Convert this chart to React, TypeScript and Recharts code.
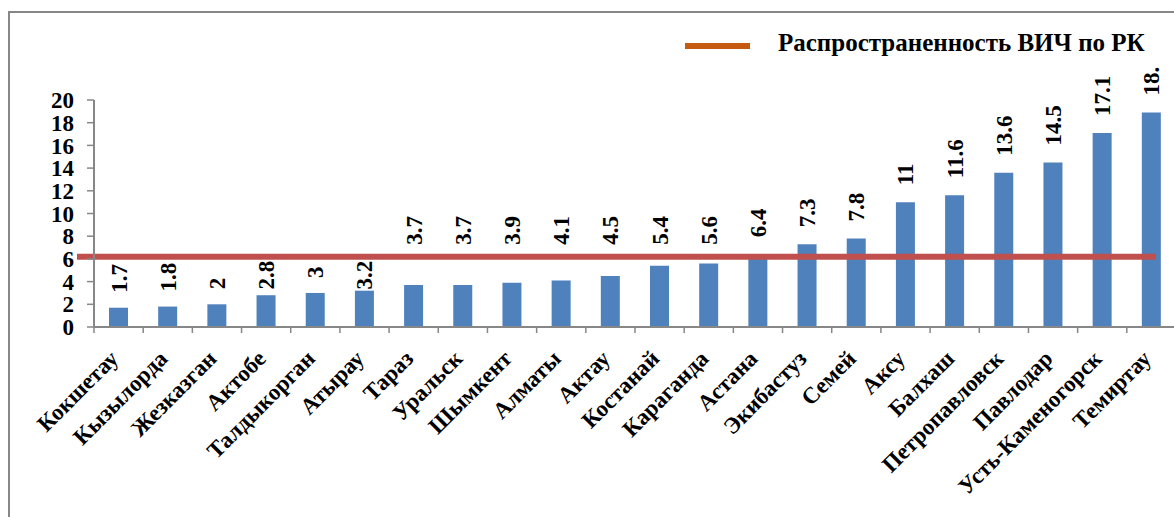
import { Bar, BarChart, LabelList, ReferenceLine, XAxis, YAxis } from 'recharts';

const CITIES = [
  'Кокшетау', 'Кызылорда', 'Жезказган', 'Актобе', 'Талдыкорган', 'Атырау',
  'Тараз', 'Уральск', 'Шымкент', 'Алматы', 'Актау', 'Костанай', 'Караганда',
  'Астана', 'Экибастуз', 'Семей', 'Аксу', 'Балхаш', 'Петропавловск', 'Павлодар',
  'Усть-Каменогорск', 'Темиртау',
];
const PREVALENCE = [
  1.7, 1.8, 2, 2.8, 3, 3.2, 3.7, 3.7, 3.9, 4.1, 4.5, 5.4, 5.6, 6.4, 7.3, 7.8,
  11, 11.6, 13.6, 14.5, 17.1, 18.9,
];
const RK_PREVALENCE = 6.2;
const RK_LABEL = 'Распространенность ВИЧ по РК';
const Y_TICKS = [0, 2, 4, 6, 8, 10, 12, 14, 16, 18, 20];

const FONT = '"Liberation Serif", "Times New Roman", serif';
const FONT_SIZE = 23;
const AXIS_GREY = '#878787';
const BAR_BLUE = '#4f81bd';
const LINE_RED = '#c0504d';
const LEGEND_ORANGE = '#c55a11';

const data = CITIES.map((city, i) => ({ city, value: PREVALENCE[i] }));

// rough advance width of a number in bold serif digits
function labelLength(text: string) {
  let w = 0;
  for (const ch of text) w += ch === '.' ? 0.25 : 0.5;
  return w * FONT_SIZE;
}

function ValueLabel(props: any) {
  const { x, y, width, height, value, index } = props;
  const v = Number(value);
  const lineY = y + height - (RK_PREVALENCE * height) / v;
  const text = String(value);
  const len = labelLength(text);
  // short bars with room under the RK line keep their label there,
  // everything else is lifted above the line
  const below = y - lineY >= 32;
  const bottom = below
    ? Math.max(y - 15, lineY + 4 + len)
    : Math.min(y - 17, lineY - 12);
  const cx = x + width / 2 + 8;
  const clipId = `value-clip-${index}`;
  return (
    <g>
      <defs>
        <clipPath id={clipId} clipPathUnits="userSpaceOnUse">
          <rect x={0} y={67} width={1200} height={500} />
        </clipPath>
      </defs>
      <g clipPath={`url(#${clipId})`}>
        <text
          transform={`translate(${cx},${bottom}) rotate(-90)`}
          textAnchor="start"
          fontFamily={FONT}
          fontWeight="bold"
          fontSize={FONT_SIZE}
          fill="#000"
        >
          {text}
        </text>
      </g>
    </g>
  );
}

function CityTick(props: any) {
  const { x, y, payload } = props;
  const half = payload?.offset ?? 1082 / CITIES.length / 2;
  const left = x - half;
  return (
    <g>
      <line x1={left} x2={left} y1={y} y2={y + 6} stroke={AXIS_GREY} strokeWidth={1.5} />
      <text
        transform={`translate(${x + 1},${y + 33}) rotate(-45)`}
        textAnchor="end"
        fontFamily={FONT}
        fontWeight="bold"
        fontSize={FONT_SIZE}
        fill="#000"
      >
        {payload.value}
      </text>
    </g>
  );
}

function RkLine(props: any) {
  const { x1, y1, x2, y2 } = props;
  return (
    <line x1={x1 - 17} y1={y1} x2={x2 - 20} y2={y2} stroke={LINE_RED} strokeWidth={6} />
  );
}

export default function App() {
  return (
    <div style={{ position: 'relative', width: 1174, height: 517, overflow: 'hidden', background: '#fff' }}>
      <style>{'body{margin:0}'}</style>
      <div
        style={{
          position: 'absolute',
          left: 8,
          top: 11,
          right: -10,
          bottom: -10,
          borderTop: `2px solid ${AXIS_GREY}`,
          borderLeft: `2px solid ${AXIS_GREY}`,
        }}
      />
      <svg width={1174} height={80} style={{ position: 'absolute', left: 0, top: 0 }}>
        <line x1={685} x2={750} y1={46} y2={46} stroke={LEGEND_ORANGE} strokeWidth={6} />
        <text x={778} y={51} fontFamily={FONT} fontWeight="bold" fontSize={25} fill="#000">
          {RK_LABEL}
        </text>
      </svg>
      <div style={{ position: 'absolute', left: 0, top: 0 }}>
        <BarChart
          width={1180}
          height={517}
          data={data}
          margin={{ top: 100, right: 4, bottom: 10, left: 0 }}
          barSize={19}
        >
          <XAxis
            dataKey="city"
            interval={0}
            height={180}
            tickSize={0}
            tickMargin={0}
            tickLine={false}
            axisLine={{ stroke: AXIS_GREY, strokeWidth: 2 }}
            tick={<CityTick />}
          />
          <YAxis
            width={94}
            domain={[0, 20]}
            ticks={Y_TICKS}
            interval={0}
            tickSize={7}
            tickMargin={13}
            tickLine={{ stroke: AXIS_GREY, strokeWidth: 1.5 }}
            axisLine={{ stroke: AXIS_GREY, strokeWidth: 2 }}
            tick={{ fontFamily: FONT, fontWeight: 'bold', fontSize: FONT_SIZE, fill: '#000' }}
          />
          <Bar dataKey="value" fill={BAR_BLUE} isAnimationActive={false}>
            <LabelList dataKey="value" content={<ValueLabel />} />
          </Bar>
          <ReferenceLine y={RK_PREVALENCE} ifOverflow="visible" shape={<RkLine />} />
        </BarChart>
      </div>
    </div>
  );
}
